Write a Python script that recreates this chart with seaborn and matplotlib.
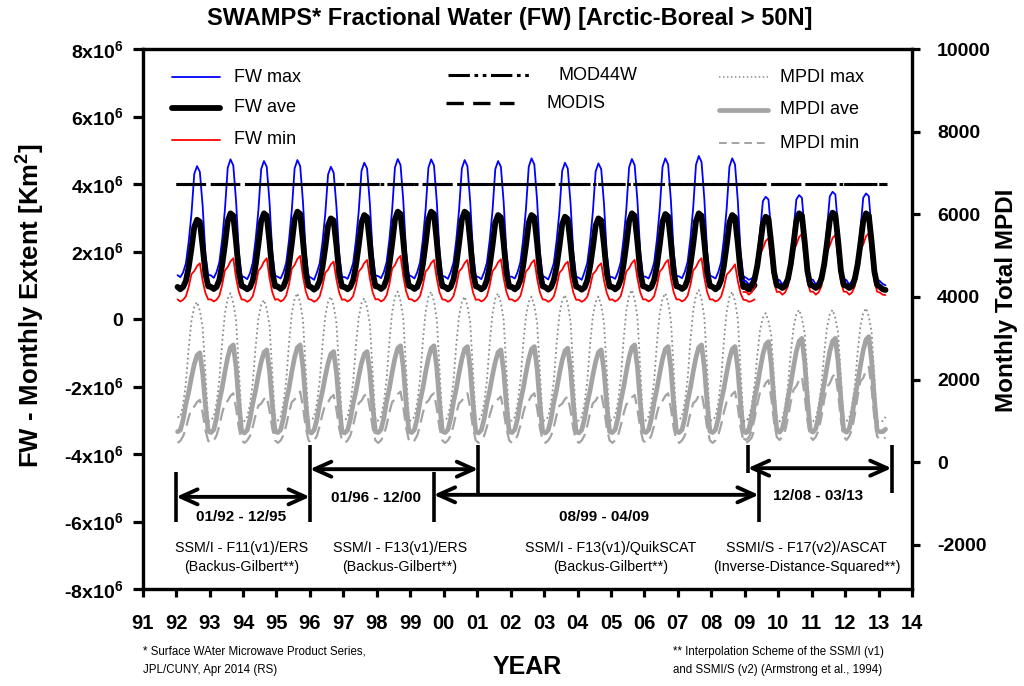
import numpy as np
import pandas as pd
import matplotlib
matplotlib.use("Agg")
import matplotlib.pyplot as plt
from matplotlib.lines import Line2D
import seaborn as sns

# ---------------- data ----------------
FW_UNIT = 1e4      # FW values below are in 10^4 km^2
MPDI_UNIT = 10     # MPDI values below are in units of 10

period_a = ("1992-01", "2009-04")   # SSM/I record
period_b = ("2008-12", "2013-03")   # SSMI/S record

fw_max_a = [
    130, 124, 138, 165, 229, 312, 430, 453, 436, 336, 192, 131,
    129, 122, 139, 168, 235, 324, 448, 473, 455, 349, 196, 127,
    124, 118, 136, 167, 234, 321, 444, 468, 451, 346, 195, 128,
    125, 120, 139, 167, 234, 323, 446, 471, 453, 347, 196, 126,
    122, 116, 138, 165, 228, 311, 428, 451, 434, 334, 191, 125,
    124, 119, 139, 166, 232, 318, 439, 463, 446, 342, 194, 129,
    127, 121, 139, 168, 235, 324, 449, 474, 456, 349, 196, 130,
    126, 120, 139, 168, 235, 324, 448, 473, 455, 349, 196, 128,
    125, 119, 139, 167, 234, 323, 446, 471, 453, 347, 196, 127,
    124, 118, 139, 167, 234, 321, 444, 468, 451, 346, 195, 126,
    125, 120, 139, 168, 236, 326, 451, 476, 458, 351, 197, 128,
    123, 117, 139, 166, 232, 318, 439, 463, 446, 342, 194, 126,
    122, 116, 139, 166, 231, 317, 437, 461, 444, 341, 193, 125,
    124, 119, 139, 168, 235, 324, 449, 474, 456, 349, 196, 127,
    125, 120, 139, 168, 236, 326, 451, 476, 458, 351, 197, 128,
    126, 121, 140, 169, 238, 330, 457, 483, 465, 355, 198, 129,
    125, 120, 139, 168, 236, 326, 451, 476, 458, 351, 197, 127,
    122, 116, 120, 128,
]
fw_ave_a = [
    95, 88, 95, 113, 153, 210, 273, 294, 288, 216, 134, 97,
    95, 89, 95, 116, 160, 221, 290, 313, 306, 228, 139, 98,
    94, 88, 94, 115, 159, 221, 290, 313, 306, 228, 138, 97,
    96, 89, 96, 117, 161, 224, 295, 318, 311, 231, 140, 98,
    94, 87, 94, 113, 154, 212, 277, 298, 292, 219, 134, 96,
    95, 88, 95, 115, 158, 218, 286, 308, 301, 225, 138, 97,
    96, 89, 96, 117, 161, 224, 295, 318, 311, 231, 140, 98,
    95, 89, 95, 117, 161, 224, 295, 318, 311, 231, 140, 97,
    95, 88, 95, 117, 161, 224, 295, 318, 311, 231, 139, 97,
    94, 88, 94, 115, 158, 218, 286, 308, 301, 225, 137, 96,
    95, 88, 95, 115, 158, 218, 286, 308, 301, 225, 138, 97,
    94, 87, 94, 115, 156, 215, 281, 303, 296, 222, 136, 96,
    93, 87, 93, 114, 155, 212, 277, 298, 292, 219, 135, 96,
    95, 88, 95, 116, 160, 221, 290, 313, 306, 228, 139, 97,
    95, 89, 95, 116, 159, 220, 288, 311, 304, 227, 138, 97,
    95, 89, 95, 116, 160, 221, 290, 313, 306, 228, 139, 98,
    95, 88, 95, 115, 158, 218, 286, 308, 301, 225, 138, 96,
    93, 87, 90, 100,
]
fw_min_a = [
    58, 52, 57, 67, 95, 133, 142, 157, 165, 114, 77, 58,
    58, 52, 57, 69, 101, 144, 154, 171, 180, 122, 80, 58,
    57, 51, 56, 68, 100, 143, 153, 170, 180, 121, 79, 57,
    59, 52, 57, 70, 103, 149, 160, 178, 187, 126, 82, 59,
    57, 51, 56, 67, 97, 137, 146, 162, 170, 117, 78, 57,
    58, 52, 57, 68, 99, 141, 150, 166, 175, 120, 79, 58,
    59, 52, 57, 70, 103, 149, 160, 178, 187, 126, 82, 59,
    58, 52, 57, 68, 99, 141, 150, 166, 175, 120, 79, 58,
    57, 51, 56, 68, 99, 141, 150, 166, 175, 120, 79, 57,
    58, 52, 57, 68, 100, 142, 152, 168, 177, 121, 80, 58,
    58, 52, 57, 68, 99, 141, 150, 166, 175, 120, 79, 58,
    57, 51, 56, 67, 97, 137, 146, 162, 170, 117, 78, 57,
    57, 51, 56, 66, 95, 133, 142, 157, 165, 114, 77, 57,
    58, 52, 57, 68, 99, 141, 150, 166, 175, 120, 79, 58,
    58, 52, 57, 68, 99, 141, 150, 166, 175, 120, 79, 58,
    58, 52, 57, 69, 101, 144, 154, 171, 180, 122, 80, 58,
    58, 52, 56, 66, 94, 131, 140, 150, 162, 113, 76, 57,
    56, 51, 53, 58,
]
fw_max_b = [
    115,
    112, 102, 112, 133, 185, 258, 349, 362, 354, 258, 154, 118,
    115, 102, 113, 134, 187, 261, 354, 367, 359, 261, 155, 118,
    116, 102, 113, 135, 190, 267, 363, 377, 369, 267, 157, 119,
    115, 102, 113, 134, 188, 264, 359, 372, 364, 264, 156, 118,
    112, 104, 100,
]
fw_ave_b = [
    95,
    98, 91, 98, 117, 158, 217, 281, 303, 297, 223, 139, 100,
    98, 92, 98, 119, 162, 223, 290, 313, 306, 229, 141, 101,
    98, 92, 98, 119, 162, 224, 292, 315, 308, 231, 142, 101,
    98, 92, 98, 119, 162, 223, 290, 313, 306, 229, 141, 101,
    95, 88, 86,
]
fw_min_b = [
    80,
    80, 72, 79, 95, 139, 192, 209, 231, 239, 172, 109, 80,
    81, 72, 79, 97, 144, 202, 220, 243, 252, 180, 112, 81,
    81, 72, 79, 97, 143, 199, 217, 240, 249, 178, 111, 81,
    81, 72, 79, 97, 145, 203, 221, 245, 254, 181, 112, 81,
    78, 72, 71,
]

mpdi_max_a = [
    110, 109, 140, 191, 276, 343, 376, 388, 367, 327, 212, 100,
    101, 111, 143, 198, 289, 360, 396, 409, 386, 344, 221, 101,
    100, 110, 140, 193, 279, 347, 381, 393, 371, 331, 214, 100,
    101, 111, 143, 198, 289, 360, 396, 409, 386, 344, 221, 101,
    101, 110, 142, 196, 284, 354, 388, 401, 379, 338, 218, 101,
    101, 110, 141, 194, 282, 350, 385, 397, 375, 335, 216, 101,
    101, 111, 144, 200, 292, 364, 400, 413, 390, 347, 223, 101,
    101, 111, 144, 200, 292, 364, 400, 413, 390, 347, 223, 101,
    101, 110, 142, 196, 284, 354, 388, 401, 379, 338, 218, 101,
    101, 111, 143, 198, 289, 360, 396, 409, 386, 344, 221, 101,
    101, 110, 142, 196, 284, 354, 388, 401, 379, 338, 218, 101,
    101, 111, 143, 197, 287, 357, 392, 405, 383, 341, 219, 101,
    101, 110, 142, 196, 284, 354, 388, 401, 379, 338, 218, 101,
    102, 112, 145, 201, 294, 367, 404, 417, 394, 351, 224, 102,
    101, 111, 143, 198, 289, 360, 396, 409, 386, 344, 221, 101,
    102, 112, 145, 201, 294, 367, 404, 417, 394, 351, 224, 102,
    101, 111, 144, 200, 292, 364, 400, 413, 390, 347, 223, 101,
    100, 108, 135, 185,
]
mpdi_ave_a = [
    74, 78, 103, 141, 170, 206, 237, 259, 265, 216, 137, 76,
    72, 79, 107, 148, 180, 219, 254, 278, 284, 230, 144, 75,
    71, 78, 105, 143, 174, 211, 243, 266, 272, 221, 139, 74,
    72, 79, 107, 148, 180, 219, 254, 278, 284, 230, 144, 75,
    71, 78, 104, 142, 172, 208, 240, 262, 268, 218, 138, 74,
    71, 78, 104, 142, 172, 208, 240, 262, 268, 218, 138, 74,
    72, 79, 107, 147, 179, 218, 252, 276, 282, 229, 143, 75,
    72, 79, 107, 147, 179, 218, 252, 276, 282, 229, 143, 75,
    72, 79, 106, 146, 178, 216, 250, 274, 280, 227, 142, 74,
    71, 78, 105, 143, 174, 211, 243, 266, 272, 221, 139, 74,
    72, 79, 106, 146, 178, 216, 250, 274, 280, 227, 142, 74,
    71, 78, 105, 145, 176, 214, 247, 270, 276, 224, 141, 74,
    71, 78, 105, 143, 174, 211, 243, 266, 272, 221, 139, 74,
    72, 79, 107, 148, 180, 219, 254, 278, 284, 230, 144, 75,
    72, 79, 106, 146, 178, 216, 250, 274, 280, 227, 142, 74,
    72, 79, 107, 148, 180, 219, 254, 278, 284, 230, 144, 75,
    72, 79, 106, 146, 178, 216, 250, 274, 280, 227, 142, 74,
    72, 76, 100, 140,
]
mpdi_min_a = [
    47, 52, 63, 83, 109, 130, 135, 146, 151, 120, 78, 52,
    47, 53, 65, 89, 119, 143, 149, 161, 167, 131, 83, 53,
    47, 53, 64, 86, 114, 137, 142, 153, 159, 125, 81, 53,
    47, 53, 66, 90, 121, 146, 152, 165, 171, 134, 84, 53,
    47, 53, 64, 88, 117, 140, 146, 157, 163, 128, 82, 53,
    47, 53, 65, 89, 119, 143, 149, 161, 167, 131, 83, 53,
    47, 53, 66, 90, 121, 146, 152, 165, 171, 134, 84, 53,
    47, 53, 65, 89, 119, 143, 149, 161, 167, 131, 83, 53,
    47, 53, 65, 89, 119, 143, 149, 161, 167, 131, 83, 53,
    47, 53, 64, 86, 114, 137, 142, 153, 159, 125, 81, 53,
    47, 53, 65, 89, 119, 143, 149, 161, 167, 131, 83, 53,
    47, 53, 64, 86, 114, 137, 142, 153, 159, 125, 81, 53,
    47, 53, 65, 89, 119, 143, 149, 161, 167, 131, 83, 53,
    47, 53, 64, 88, 117, 140, 146, 157, 163, 128, 82, 53,
    47, 53, 65, 89, 119, 143, 149, 161, 167, 131, 83, 53,
    47, 53, 65, 89, 119, 143, 149, 161, 167, 131, 83, 53,
    47, 53, 66, 90, 121, 146, 152, 165, 171, 134, 84, 53,
    47, 52, 60, 80,
]
mpdi_max_b = [
    99,
    99, 107, 135, 182, 259, 320, 350, 361, 342, 306, 201, 99,
    99, 108, 136, 184, 264, 326, 358, 369, 349, 312, 204, 99,
    99, 108, 136, 184, 264, 326, 358, 369, 349, 312, 204, 99,
    99, 108, 137, 186, 266, 330, 361, 373, 353, 315, 206, 99,
    97, 100, 110,
]
mpdi_ave_b = [
    75,
    73, 81, 110, 152, 185, 225, 261, 285, 292, 237, 148, 77,
    73, 82, 111, 155, 190, 231, 268, 293, 300, 243, 151, 77,
    73, 82, 111, 155, 190, 231, 268, 293, 300, 243, 151, 77,
    73, 82, 112, 157, 192, 234, 271, 297, 304, 246, 152, 77,
    74, 74, 80,
]
mpdi_min_b = [
    58,
    54, 61, 76, 105, 141, 170, 177, 192, 199, 156, 98, 61,
    54, 62, 77, 108, 146, 176, 184, 199, 207, 161, 100, 62,
    54, 62, 78, 110, 151, 183, 191, 207, 215, 167, 102, 62,
    54, 63, 81, 116, 160, 196, 204, 222, 231, 178, 107, 63,
    54, 56, 60,
]

mod44w_level = 4.0e6
modis_level = 4.0e6
reference_span = ("1992-01", "2013-03")

left_ticks = [-8e6, -6e6, -4e6, -2e6, 0, 2e6, 4e6, 6e6, 8e6]
left_tick_labels = ["-8x10$^{6}$", "-6x10$^{6}$", "-4x10$^{6}$", "-2x10$^{6}$", "0",
                    "2x10$^{6}$", "4x10$^{6}$", "6x10$^{6}$", "8x10$^{6}$"]
right_ticks = [-2000, 0, 2000, 4000, 6000, 8000, 10000]
right_tick_labels = ["-2000", "0", "2000", "4000", "6000", "8000", "10000"]
year_ticks = list(range(1991, 2015))
year_labels = ["91", "92", "93", "94", "95", "96", "97", "98", "99", "00", "01", "02",
               "03", "04", "05", "06", "07", "08", "09", "10", "11", "12", "13", "14"]

# sensor periods: boundaries in decimal years, as drawn
period_bars = [1992.0, 1996.0, 1999.70, 2001.03, 2009.09, 2009.42, 2013.39]
arrow_spans = [(1992.0, 1996.0), (1996.0, 2001.03), (1999.70, 2009.42), (2009.09, 2013.39)]
arrow_texts = ["01/92 - 12/95", "01/96 - 12/00", "08/99 - 04/09", "12/08 - 03/13"]
sensor_line1 = ["SSM/I - F11(v1)/ERS", "SSM/I - F13(v1)/ERS",
                "SSM/I - F13(v1)/QuikSCAT", "SSMI/S - F17(v2)/ASCAT"]
sensor_line2 = ["(Backus-Gilbert**)", "(Backus-Gilbert**)",
                "(Backus-Gilbert**)", "(Inverse-Distance-Squared**)"]

# ---------------- helpers ----------------
def month_axis(start, end):
    p = pd.period_range(start, end, freq="M")
    return np.asarray(p.year + (p.month - 0.5) / 12.0, dtype=float)

def span_years(start, end):
    a = pd.Period(start, freq="M")
    b = pd.Period(end, freq="M")
    return a.year + (a.month - 1) / 12.0, b.year + b.month / 12.0

t_a = month_axis(*period_a)
t_b = month_axis(*period_b)

df_a = pd.DataFrame({
    "t": t_a,
    "fw_max": np.array(fw_max_a) * FW_UNIT,
    "fw_ave": np.array(fw_ave_a) * FW_UNIT,
    "fw_min": np.array(fw_min_a) * FW_UNIT,
    "mpdi_max": np.array(mpdi_max_a) * MPDI_UNIT,
    "mpdi_ave": np.array(mpdi_ave_a) * MPDI_UNIT,
    "mpdi_min": np.array(mpdi_min_a) * MPDI_UNIT,
})
df_b = pd.DataFrame({
    "t": t_b,
    "fw_max": np.array(fw_max_b) * FW_UNIT,
    "fw_ave": np.array(fw_ave_b) * FW_UNIT,
    "fw_min": np.array(fw_min_b) * FW_UNIT,
    "mpdi_max": np.array(mpdi_max_b) * MPDI_UNIT,
    "mpdi_ave": np.array(mpdi_ave_b) * MPDI_UNIT,
    "mpdi_min": np.array(mpdi_min_b) * MPDI_UNIT,
})

# ---------------- style ----------------
sns.set_theme(style="white")
plt.rcParams["font.family"] = ["Liberation Sans", "DejaVu Sans"]
plt.rcParams["mathtext.default"] = "regular"
plt.rcParams["axes.unicode_minus"] = False

W, H = 1024, 686
fig = plt.figure(figsize=(W / 100, H / 100), dpi=100)
fig.patch.set_facecolor("white")

def fx(px):
    return px / W

def fy(py):
    return 1 - py / H

ax = fig.add_axes([fx(142.7), fy(589), fx(912) - fx(142.7), fy(49) - fy(589)])
ax2 = ax.twinx()
ax2.set_position(ax.get_position())

BLUE, RED, BLACK, GRAY = "#0000FF", "#FF0000", "#000000", "#A3A3A3"
DOT_GRAY = "#8C8C8C"
MOD44W_DASH = (0, (7, 1.5, 1.2, 1.5, 1.2, 1.5))

# MPDI (right axis)
for df in (df_a, df_b):
    sns.lineplot(data=df, x="t", y="mpdi_max", ax=ax2, color=DOT_GRAY, lw=1.3,
                 linestyle=(0, (1, 1.6)), estimator=None, sort=False)
    sns.lineplot(data=df, x="t", y="mpdi_min", ax=ax2, color=GRAY, lw=1.6,
                 linestyle=(0, (6, 3)), estimator=None, sort=False)
    sns.lineplot(data=df, x="t", y="mpdi_ave", ax=ax2, color=GRAY, lw=3.4,
                 estimator=None, sort=False)

# FW (left axis)
for df in (df_a, df_b):
    sns.lineplot(data=df, x="t", y="fw_max", ax=ax, color=BLUE, lw=1.3,
                 estimator=None, sort=False)
    sns.lineplot(data=df, x="t", y="fw_min", ax=ax, color=RED, lw=1.3,
                 estimator=None, sort=False)
    sns.lineplot(data=df, x="t", y="fw_ave", ax=ax, color=BLACK, lw=4.2,
                 estimator=None, sort=False)

ref_x = list(span_years(*reference_span))
sns.lineplot(x=ref_x, y=[modis_level] * 2, ax=ax, color=BLACK, lw=2.2,
             linestyle=(0, (9, 2.5)), estimator=None)
sns.lineplot(x=ref_x, y=[mod44w_level] * 2, ax=ax, color=BLACK, lw=2.2,
             linestyle=MOD44W_DASH, estimator=None)

# axes
ax.set_xlim(1991, 2014)
ax.set_ylim(-8e6, 8e6)
ax2.set_ylim(-3065, 10000)
ax.set_xticks(year_ticks)
ax.set_xticklabels(year_labels)
ax.set_yticks(left_ticks)
ax.set_yticklabels(left_tick_labels)
ax2.set_yticks(right_ticks)
ax2.set_yticklabels(right_tick_labels)
ax.set_xlabel("")
ax.set_ylabel("")
ax2.set_ylabel("")

for a in (ax, ax2):
    for s in a.spines.values():
        s.set_linewidth(2.3)
        s.set_color("black")
ax.tick_params(axis="x", direction="out", length=6, width=2.3, pad=12,
               labelsize=14.5, colors="black", bottom=True, top=False)
ax.tick_params(axis="y", direction="out", length=7, width=2.3, pad=7,
               labelsize=14, colors="black", left=True, right=False)
ax2.tick_params(axis="y", direction="out", length=6, width=2.3, pad=12,
                labelsize=14, colors="black", right=True, left=False)
for lbl in ax.get_xticklabels() + ax.get_yticklabels() + ax2.get_yticklabels():
    lbl.set_fontweight("bold")

# period annotations (left-axis data coords)
bar_ranges = [(-4.52e6, -6.0e6), (-3.73e6, -6.0e6), (-4.52e6, -6.0e6), (-3.73e6, -5.2e6),
              (-3.73e6, -4.56e6), (-4.38e6, -6.0e6), (-3.73e6, -5.16e6)]
for xb, (y0, y1) in zip(period_bars, bar_ranges):
    ax.plot([xb, xb], [y0, y1], color="black", lw=2.6, solid_capstyle="butt")

arrow_y = [-5.27e6, -4.45e6, -5.21e6, -4.42e6]
for (x0, x1), ya in zip(arrow_spans, arrow_y):
    ax.annotate("", xy=(x1, ya), xytext=(x0, ya),
                arrowprops=dict(arrowstyle="<->,head_length=1.0,head_width=0.45",
                                lw=2.8, color="black", shrinkA=0, shrinkB=0))

arrow_text_pos = [(1993.93, -5.88e6), (1997.97, -5.31e6), (2004.79, -5.88e6), (2011.18, -5.24e6)]
for txt, (xt, yt) in zip(arrow_texts, arrow_text_pos):
    ax.text(xt, yt, txt, ha="center", va="center", fontsize=11, fontweight="bold", color="black")

sensor_x = [1993.96, 1998.69, 2005.0, 2010.85]
for xs, l1, l2 in zip(sensor_x, sensor_line1, sensor_line2):
    ax.text(xs, -6.79e6, l1, ha="center", va="center", fontsize=10.3, color="black")
    ax.text(xs, -7.36e6, l2, ha="center", va="center", fontsize=10.3, color="black")

# legend (hand-placed like the original)
def leg_line(x0, x1, y, **kw):
    fig.add_artist(Line2D([fx(x0), fx(x1)], [fy(y), fy(y)], transform=fig.transFigure, **kw))

def leg_text(x, y, s):
    fig.text(fx(x), fy(y), s, ha="left", va="center", fontsize=13, color="black")

leg_line(172, 220, 77, color=BLUE, lw=1.3)
leg_line(172, 220, 108, color=BLACK, lw=4.2)
leg_line(172, 220, 140, color=RED, lw=1.3)
leg_text(234, 77, "FW max")
leg_text(234, 108, "FW ave")
leg_text(234, 140, "FW min")

leg_line(448, 530, 75, color=BLACK, lw=2.2, linestyle=MOD44W_DASH)
leg_line(446, 514, 103, color=BLACK, lw=2.4, linestyle=(0, (5.2, 2.8)))
leg_text(559, 75, "MOD44W")
leg_text(546, 103, "MODIS")

leg_line(719, 768, 77, color=DOT_GRAY, lw=1.1, linestyle=(0, (1, 1.6)))
leg_line(719, 768, 110, color=GRAY, lw=3.4)
leg_line(719, 768, 143, color=GRAY, lw=1.4, linestyle=(0, (4, 2.5)))
leg_text(780, 77, "MPDI max")
leg_text(780, 110, "MPDI ave")
leg_text(780, 143, "MPDI min")

# titles and labels
fig.text(fx(510), fy(18), "SWAMPS* Fractional Water (FW) [Arctic-Boreal > 50N]",
         ha="center", va="center", fontsize=17, fontweight="bold", color="black")
fig.text(fx(31), fy(306), "FW - Monthly Extent [Km$^{2}$]", rotation=90,
         ha="center", va="center", fontsize=18.5, fontweight="bold", color="black")
fig.text(fx(1006), fy(300), "Monthly Total MPDI", rotation=90,
         ha="center", va="center", fontsize=17.5, fontweight="bold", color="black")
fig.text(fx(527), fy(667), "YEAR", ha="center", va="center",
         fontsize=18, fontweight="bold", color="black")

fig.text(fx(143), fy(652), "* Surface WAter Microwave Product Series,",
         ha="left", va="center", fontsize=8.3, color="black")
fig.text(fx(143), fy(670), "JPL/CUNY, Apr 2014 (RS)",
         ha="left", va="center", fontsize=8.3, color="black")
fig.text(fx(673), fy(652), "** Interpolation Scheme of the SSM/I (v1)",
         ha="left", va="center", fontsize=8.3, color="black")
fig.text(fx(673), fy(670), "and SSMI/S (v2) (Armstrong et al., 1994)",
         ha="left", va="center", fontsize=8.3, color="black")

fig.savefig("out.png", dpi=100, facecolor="white")
